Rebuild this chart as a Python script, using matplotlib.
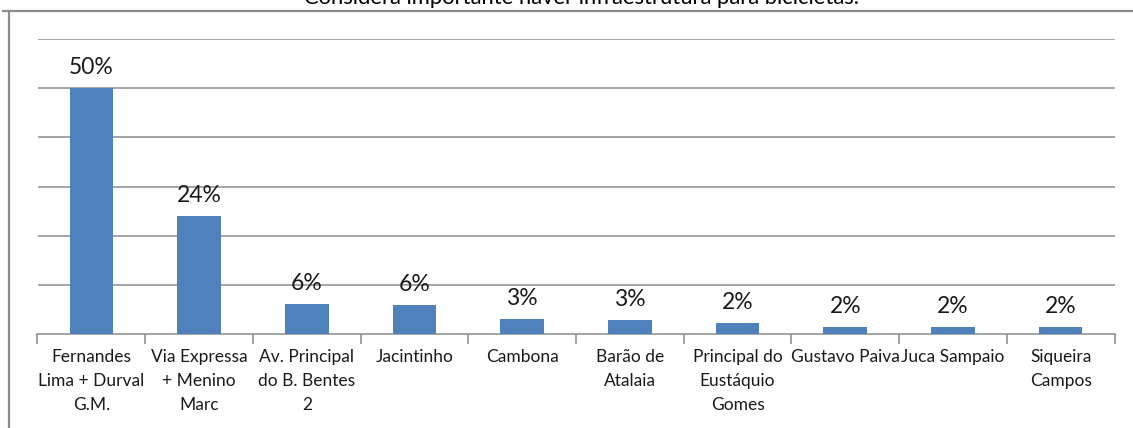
import matplotlib
matplotlib.use("Agg")
import matplotlib.pyplot as plt
from matplotlib.lines import Line2D

plt.rcParams['font.family'] = ['Lato', 'DejaVu Sans']

title = "Considera importante haver infraestrutura para bicicletas."
categories = [
    "Fernandes\nLima + Durval\nG.M.",
    "Via Expressa\n+ Menino\nMarc",
    "Av. Principal\ndo B. Bentes\n2",
    "Jacintinho",
    "Cambona",
    "Barão de\nAtalaia",
    "Principal do\nEustáquio\nGomes",
    "Gustavo Paiva",
    "Juca Sampaio",
    "Siqueira\nCampos",
]
values = [50, 24, 6.1, 5.9, 3.0, 2.8, 2.2, 1.5, 1.5, 1.5]
value_labels = ["50%", "24%", "6%", "6%", "3%", "3%", "2%", "2%", "2%", "2%"]

W, H = 1133, 428
fig = plt.figure(figsize=(W / 100, H / 100), dpi=100)

# outer chart frame (top + left visible)
frame_col = "#8c8c8c"
fig.add_artist(Line2D([3 / W, 1.0], [1 - 10.5 / H, 1 - 10.5 / H], color=frame_col, lw=1.6, transform=fig.transFigure))
fig.add_artist(Line2D([9 / W, 9 / W], [0, 1 - 10.5 / H], color=frame_col, lw=1.6, transform=fig.transFigure))

fig.text(582 / W, 1 - 4 / H, title, ha="center", va="baseline", fontsize=15.8, color="#000000")

ax = fig.add_axes([37.5 / W, 1 - 334 / H, (1114.5 - 37.5) / W, (334 - 39) / H])
x = list(range(len(categories)))
ax.bar(x, values, width=0.405, color="#4F81BD", zorder=3)
ax.set_xlim(-0.5, len(categories) - 0.5)
ax.set_ylim(0, 60)
ax.set_yticks([10, 20, 30, 40, 50, 60])
ax.yaxis.grid(True, color="#8c8c8c", lw=1.1, zorder=0)
ax.tick_params(axis="y", length=0, labelleft=False)
for s in ["top", "right", "left"]:
    ax.spines[s].set_visible(False)
ax.spines["bottom"].set_color("#8c8c8c")
ax.spines["bottom"].set_linewidth(1.1)

ax.set_xticks(x)
ax.set_xticklabels(categories, fontsize=12.5, linespacing=1.62, color="#1a1a1a")
ax.set_xticks([i - 0.5 for i in range(len(categories) + 1)], minor=True)
ax.tick_params(axis="x", which="major", length=0, pad=11)
ax.tick_params(axis="x", which="minor", length=7, color="#8c8c8c", width=1.1)

for xi, v, lab in zip(x, values, value_labels):
    ax.annotate(lab, (xi, v), xytext=(0, 10), textcoords="offset pixels",
                ha="center", va="bottom", fontsize=16.5, color="#1a1a1a")

fig.savefig("out.png", dpi=100)
